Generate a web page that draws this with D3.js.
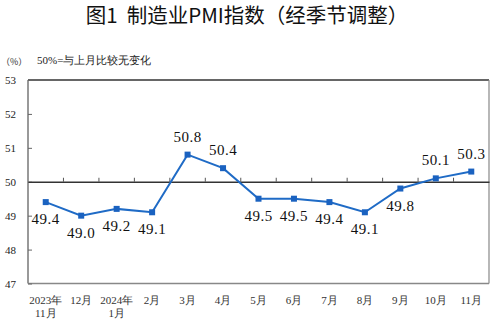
<!DOCTYPE html>
<html><head><meta charset="utf-8">
<script src="https://cdn.jsdelivr.net/npm/d3@7/dist/d3.min.js"></script>
<style>body{margin:0;background:#fff}svg{display:block}</style>
</head><body>
<svg id="c" width="495" height="324"></svg>
<script>
const categories = ["2023年\n11月","12月","2024年\n1月","2月","3月","4月","5月","6月","7月","8月","9月","10月","11月"];
const pmiValues = [49.4,49.0,49.2,49.1,50.8,50.4,49.5,49.5,49.4,49.1,49.8,50.1,50.3];
const yTicks = [47,48,49,50,51,52,53];
const titleText = "图1  制造业PMI指数（经季节调整）";
const unitText = "（%）";
const noteText = "50%=与上月比较无变化";

const svg = d3.select("#c");
const L=28, R=489, T=80, B=283.5;
const serif = "'Liberation Serif','DejaVu Serif',serif";
const cjk = "'Noto Sans CJK SC',sans-serif";

const x = d3.scaleBand().domain(categories).range([L,R]);
const y = d3.scaleLinear().domain([47,53]).range([B,T]);

svg.append("text").attr("x",247).attr("y",23).attr("text-anchor","middle").style("white-space","pre")
  .attr("font-family",cjk).attr("font-size",20.5).attr("font-weight",400).attr("fill","#111").text(titleText);
svg.append("text").attr("x",1).attr("y",65).attr("font-family",cjk).attr("font-size",9).attr("fill","#333").text(unitText);
svg.append("text").attr("x",37).attr("y",64).attr("font-family",serif).attr("font-size",11).attr("fill","#222").text(noteText);

// frame
svg.append("line").attr("x1",L).attr("x2",R).attr("y1",T).attr("y2",T).attr("stroke","#333").attr("stroke-width",1.3);
svg.append("line").attr("x1",L).attr("x2",L).attr("y1",T).attr("y2",B).attr("stroke","#777").attr("stroke-width",1.5);
svg.append("line").attr("x1",R).attr("x2",R).attr("y1",T).attr("y2",B).attr("stroke","#888").attr("stroke-width",1.2);
svg.append("line").attr("x1",L).attr("x2",R).attr("y1",B).attr("y2",B).attr("stroke","#888").attr("stroke-width",1.5);

// y axis
const yAxis = d3.axisLeft(y).tickValues(yTicks).tickFormat(d3.format("d")).tickSize(-4).tickPadding(12);
const ga = svg.append("g").attr("transform",`translate(${L},0)`).call(yAxis);
ga.select(".domain").remove();
ga.selectAll(".tick line").attr("stroke","#666");
ga.selectAll(".tick text").attr("font-family",serif).attr("font-size",11).attr("fill","#222");

// 50 baseline with ticks between categories
const y50 = y(50);
const gx = svg.append("g").attr("transform",`translate(0,${y50})`)
  .call(d3.axisTop(x).tickValues([]).tickSizeOuter(0));
gx.select(".domain").attr("stroke","#333").attr("stroke-width",1.3);
gx.selectAll(".b").data(categories.slice(1)).enter().append("line")
  .attr("x1",d=>x(d)).attr("x2",d=>x(d)).attr("y1",0).attr("y2",-4).attr("stroke","#555");

// x labels
const xl = svg.append("g");
categories.forEach(c=>{
  const lines = c.split("\n");
  const t = xl.append("text").attr("text-anchor","middle").attr("font-family",serif).attr("font-size",11).attr("fill","#333");
  lines.forEach((s,i)=>t.append("tspan").attr("x",x(c)+x.bandwidth()/2).attr("y",304+i*13).text(s));
});

const cx = (d,i)=>x(categories[i])+x.bandwidth()/2;
const line = d3.line().x((d,i)=>cx(d,i)).y(d=>y(d));
svg.append("path").datum(pmiValues).attr("d",line).attr("fill","none").attr("stroke","#1f6bc6").attr("stroke-width",2);
svg.selectAll(".m").data(pmiValues).enter().append("rect")
  .attr("x",(d,i)=>cx(d,i)-3).attr("y",d=>y(d)-3).attr("width",6).attr("height",6).attr("fill","#1a62c0");
svg.selectAll(".lbl").data(pmiValues).enter().append("text")
  .attr("x",(d,i)=>cx(d,i)).attr("y",d=>d>=50?y(d)-13:y(d)+22)
  .attr("text-anchor","middle").attr("font-family",serif).attr("font-size",15).attr("letter-spacing",0.5).attr("fill","#111")
  .text(d=>d.toFixed(1));
</script>
</body></html>
